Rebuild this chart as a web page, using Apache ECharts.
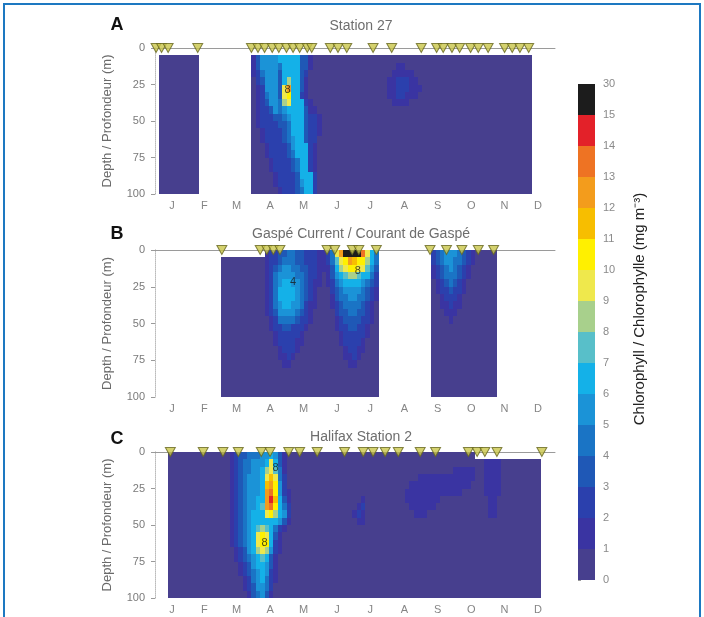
<!DOCTYPE html>
<html>
<head>
<meta charset="utf-8">
<script src="https://cdn.jsdelivr.net/npm/echarts@6/dist/echarts.min.js"></script>
<style>html,body{margin:0;padding:0;background:#fff}#c{width:704px;height:617px}</style>
</head>
<body>
<div id="c"></div>
<script>
// ---------- DATA ----------
const monthLabels = ['J','F','M','A','M','J','J','A','S','O','N','D'];
const monthMidDays = [15.5,45,74.5,105,135.5,166,196.5,227.5,258,288.5,319,349.5];
const depthTicks = [0,25,50,75,100];

// colour classes (mg m-3): lower bounds and mid values, tick labels of the colour bar
const classLower = [0,1,2,3,4,5,6,7,8,9,10,11,12,13,14,15];
const classUpper = [1,2,3,4,5,6,7,8,9,10,11,12,13,14,15,30];
const classMid   = [0.5,1.5,2.5,3.5,4.5,5.5,6.5,7.5,8.5,9.5,10.5,11.5,12.5,13.5,14.5,22.5];
const colorbarLabels = ['0','1','2','3','4','5','6','7','8','9','10','11','12','13','14','15','30'];
const classColors = ['#473f8e','#3a34a2','#2b40ad','#1f58b6','#1a74c5','#1b93d7','#14b1e8','#58bfc9',
  '#a8d08c','#efe84c','#fff000','#f7be00','#f39c1c','#ee7323','#e32129','#1c1c1c'];

// grid of cells: 4-day columns x 5-m depth rows; row strings are run-length coded
// token = class char ('.' = no data, 0-9,a-f = colour class) followed by a count of columns
const cellDays = 4, cellDepth = 5;

const station27Rows = [
  ".92",
  ".1 09 .12 11 31 54 65 32 11 050 .6",
  ".1 09 .12 11 31 54 41 64 32 11 019 12 029 .6",
  ".1 09 .12 11 21 41 53 31 64 31 21 019 15 027 .6",
  ".1 09 .12 01 21 31 53 31 61 81 62 31 11 018 12 23 12 026 .6",
  ".1 09 .12 01 11 21 53 31 91 c1 62 31 11 018 12 23 13 025 .6",
  ".1 09 .12 01 11 21 41 52 31 91 a1 62 21 11 018 12 22 13 026 .6",
  ".1 09 .12 01 11 21 31 52 41 81 91 63 21 11 018 14 028 .6",
  ".1 09 .12 01 11 22 31 51 41 51 64 31 12 049 .6",
  ".1 09 .12 01 11 23 32 41 51 63 31 22 11 048 .6",
  ".1 09 .12 01 11 24 32 41 63 31 22 11 048 .6",
  ".1 09 .12 02 11 24 31 41 63 31 22 11 048 .6",
  ".1 09 .12 02 11 24 31 41 51 62 31 22 049 .6",
  ".1 09 .12 03 11 24 31 51 63 21 11 049 .6",
  ".1 09 .12 03 11 24 31 41 63 21 11 049 .6",
  ".1 09 .12 04 11 24 31 41 62 21 11 049 .6",
  ".1 09 .12 04 11 24 31 41 62 21 11 049 .6",
  ".1 09 .12 05 11 24 31 63 21 049 .6",
  ".1 09 .12 05 11 24 31 51 62 21 049 .6",
  ".1 09 .12 06 11 23 31 41 62 21 049 .6"
];

const gaspeRows = [
  ".25 11 22 32 42 32 23 12 21 41 91 c1 f4 d1 91 61 41 .12 21 31 41 53 41 31 21 11 05 .14",
  ".15 010 11 22 31 43 32 23 12 21 41 71 91 a1 c1 b1 a2 81 61 41 .12 21 31 41 52 42 31 21 11 05 .14",
  ".15 010 11 21 31 41 52 42 32 22 12 11 31 61 81 91 a2 92 71 51 31 .12 11 21 31 41 51 41 31 21 11 06 .14",
  ".15 010 11 21 41 54 42 31 22 11 01 11 31 51 61 71 82 71 62 41 21 .12 11 21 31 43 31 21 11 06 .14",
  ".15 010 11 21 41 51 62 52 41 31 21 12 01 11 21 41 51 64 51 41 31 21 .12 01 11 21 31 41 31 21 11 07 .14",
  ".15 010 11 21 41 64 51 41 31 21 11 02 01 21 31 41 54 41 31 21 11 .12 01 11 22 31 22 11 07 .14",
  ".15 010 11 21 41 64 51 41 31 21 11 02 01 11 31 42 52 42 31 21 11 .12 02 11 23 11 08 .14",
  ".15 010 11 21 41 51 62 52 41 21 12 02 01 11 21 31 44 31 21 11 01 .12 02 12 21 12 08 .14",
  ".15 010 11 21 31 54 41 31 21 11 03 02 21 32 42 32 21 11 01 .12 03 13 09 .14",
  ".15 010 01 11 21 44 31 22 11 03 02 11 21 34 22 11 01 .12 04 11 010 .14",
  ".15 010 01 11 22 32 23 11 04 02 11 22 32 22 11 02 .12 015 .14",
  ".15 010 02 11 25 11 05 03 11 25 11 02 .12 015 .14",
  ".15 010 02 11 24 12 05 03 11 24 11 03 .12 015 .14",
  ".15 010 03 11 23 11 06 04 11 22 12 03 .12 015 .14",
  ".15 010 03 12 21 11 07 04 12 21 11 04 .12 015 .14",
  ".15 010 04 12 08 05 12 05 .12 015 .14",
  ".15 036 .12 015 .14",
  ".15 036 .12 015 .14",
  ".15 036 .12 015 .14",
  ".15 036 .12 015 .14"
];

const halifaxRows = [
  ".3 014 11 21 32 43 52 61 51 31 11 01 042 .19",
  ".3 014 11 21 31 42 53 61 91 61 31 11 01 044 14 09 .4",
  ".3 014 11 21 31 42 52 61 81 91 71 41 11 01 037 15 02 14 09 .4",
  ".3 014 11 21 31 41 53 61 91 b1 91 41 21 01 029 113 02 14 09 .4",
  ".3 014 11 21 31 41 53 61 b1 c1 a1 51 21 01 027 114 03 14 09 .4",
  ".3 014 11 21 31 41 53 61 c1 d1 a1 51 21 11 026 113 05 14 09 .4",
  ".3 014 11 21 31 41 52 62 c1 e1 b1 61 31 11 016 11 09 18 011 12 010 .4",
  ".3 014 11 21 31 41 52 61 71 c1 d1 a1 61 41 21 015 11 21 010 16 012 12 010 .4",
  ".3 014 11 21 31 41 51 63 91 a1 81 61 51 21 014 11 21 11 011 13 014 12 010 .4",
  ".3 014 11 21 31 41 51 66 51 31 11 015 12 040 .4",
  ".3 014 11 21 31 41 51 61 71 81 71 61 41 21 11 01 057 .4",
  ".3 014 11 21 31 41 51 61 91 a1 91 61 31 11 02 057 .4",
  ".3 014 11 21 31 41 51 61 91 a2 61 21 11 02 057 .4",
  ".3 014 01 11 21 31 51 61 81 91 81 51 21 11 02 057 .4",
  ".3 014 01 11 21 31 41 51 61 71 61 31 11 03 057 .4",
  ".3 014 02 11 21 31 51 62 51 31 11 03 057 .4",
  ".3 014 02 11 21 31 41 51 61 51 21 11 03 057 .4",
  ".3 014 03 11 21 41 51 61 41 21 11 03 057 .4",
  ".3 014 03 11 21 31 52 41 21 04 057 .4",
  ".3 014 04 11 31 41 51 31 11 04 057 .4"
];

// sampling dates (day of year), shown as triangles at the surface
const samplesStation27 = [1,6,12,39,88,94,100,107,113,120,126,132,139,143,160,167,175,199,216,243,257,263,271,278,288,295,304,319,326,333,341];
const samplesGaspe = [61,96,102,108,114,157,164,180,186,202,251,266,280,295,309];
const samplesHalifax = [14,44,62,76,97,105,122,132,148,173,190,199,210,222,242,256,286,294,301,312,353];

// contour labels [day, depth, text]
const labelsStation27 = [[121,29,'8']];
const labelsGaspe = [[126,22,'4'],[185,14,'8']];
const labelsHalifax = [[110,11,'8'],[100,62,'8']];

const panelTitles = ['Station 27','Gaspé Current / Courant de Gaspé','Halifax Station 2'];
const panelLetters = ['A','B','C'];

// ---------- BUILD ----------
function decodeRows(rows) {
  const cells = [];
  rows.forEach((row, r) => {
    let c = 0;
    row.trim().split(/\s+/).forEach(tok => {
      const ch = tok[0], n = parseInt(tok.slice(1), 10);
      for (let i = 0; i < n; i++, c++) {
        if (ch !== '.') cells.push([c * cellDays, r * cellDepth, classMid[parseInt(ch, 16)]]);
      }
    });
  });
  return cells;
}

const panels = [
  {rows: station27Rows, samples: samplesStation27, labels: labelsStation27},
  {rows: gaspeRows, samples: samplesGaspe, labels: labelsGaspe},
  {rows: halifaxRows, samples: samplesHalifax, labels: labelsHalifax}
];
const gridBoxes = [
  {left: 155, top: 48, width: 400, height: 146},
  {left: 155, top: 250, width: 400, height: 147},
  {left: 155, top: 452, width: 400, height: 146}
];
const FONT = 'Liberation Sans';

function renderCell(params, api) {
  const d = api.value(0), z = api.value(1);
  const p0 = api.coord([d, z]);
  const p1 = api.coord([d + cellDays, z + cellDepth]);
  const cs = params.coordSys;
  const x0 = Math.round(p0[0]), y0 = Math.round(p0[1]);
  const x1 = Math.round(p1[0]), y1 = Math.round(p1[1]);
  const rect = echarts.graphic.clipRectByRect(
    {x: x0, y: y0, width: x1 - x0, height: y1 - y0},
    {x: Math.round(cs.x), y: Math.round(cs.y), width: Math.round(cs.width), height: Math.round(cs.height)});
  return rect && {type: 'rect', shape: rect, style: {fill: api.visual('color')}};
}
function renderBand(params, api) {
  const p0 = api.coord([0, api.value(1) + 1]);
  const p1 = api.coord([1, api.value(1)]);
  const x0 = Math.round(p0[0]), y0 = Math.round(p0[1]);
  const x1 = Math.round(p1[0]), y1 = Math.round(p1[1]);
  return {type: 'rect', shape: {x: x0, y: y0, width: x1 - x0, height: y1 - y0},
    style: {fill: api.visual('color')}};
}

const grids = [], xAxes = [], yAxes = [], series = [], cellSeriesIdx = [];
panels.forEach((p, i) => {
  grids.push(gridBoxes[i]);
  xAxes.push({
    gridIndex: i, type: 'value', min: 0, max: 365, position: 'bottom',
    axisLine: {show: false}, axisTick: {show: false}, splitLine: {show: false},
    axisLabel: {customValues: monthMidDays, margin: 6, color: '#858585', fontSize: 11, fontFamily: FONT,
      formatter: v => monthLabels[monthMidDays.indexOf(v)] || ''}
  });
  xAxes.push({
    gridIndex: i, type: 'value', min: 0, max: 365, position: 'top',
    axisLine: {show: true, onZero: false, lineStyle: {color: '#9a9a9a', width: 1}},
    axisTick: {show: false}, axisLabel: {show: false}, splitLine: {show: false}
  });
  yAxes.push({
    gridIndex: i, type: 'value', min: 0, max: 100, interval: 25, inverse: true,
    name: 'Depth / Profondeur (m)', nameLocation: 'middle', nameGap: 41,
    nameTextStyle: {color: '#6a6a6a', fontSize: 13, fontFamily: FONT},
    axisLine: {show: true, lineStyle: {color: '#9a9a9a'}},
    axisTick: {show: true, length: 4, lineStyle: {color: '#9a9a9a'}},
    axisLabel: {color: '#7a7a7a', fontSize: 11, margin: 10, fontFamily: FONT},
    splitLine: {show: false}
  });
  yAxes.push({
    gridIndex: i, type: 'value', min: 0, max: 100, interval: 25, inverse: true, position: 'right',
    axisLine: {show: true, lineStyle: {color: '#cfcfcf', type: 'dotted'}},
    axisTick: {show: false}, axisLabel: {show: false}, splitLine: {show: false}
  });
  cellSeriesIdx.push(series.length);
  series.push({
    type: 'custom', xAxisIndex: 2 * i, yAxisIndex: 2 * i, renderItem: renderCell,
    data: decodeRows(p.rows), encode: {x: 0, y: 1}, silent: true, z: 2
  });
  series.push({
    type: 'scatter', xAxisIndex: 2 * i, yAxisIndex: 2 * i, clip: false, z: 6,
    symbol: 'triangle', symbolRotate: 180, symbolSize: [10, 9],
    itemStyle: {color: '#c9c54a', borderColor: '#66661f', borderWidth: 1},
    data: p.samples.map(d => [d, 0])
  });
  series.push({
    type: 'scatter', xAxisIndex: 2 * i, yAxisIndex: 2 * i, symbolSize: 0, z: 7,
    label: {show: true, position: 'inside', formatter: q => q.data[2], color: '#1a1a1a', fontSize: 11, fontFamily: FONT},
    data: p.labels
  });
});

// colour bar
grids.push({left: 578, top: 84, width: 17, height: 496});
xAxes.push({gridIndex: 3, type: 'value', min: 0, max: 1, show: false});
yAxes.push({
  gridIndex: 3, type: 'value', min: 0, max: 16, interval: 1, position: 'right',
  axisLine: {show: false}, axisTick: {show: true, length: 3, lineStyle: {color: '#9a9a9a'}},
  axisLabel: {color: '#8a8a8a', fontSize: 11, margin: 8, fontFamily: FONT, formatter: v => colorbarLabels[v]},
  splitLine: {show: false}
});
cellSeriesIdx.push(series.length);
series.push({
  type: 'custom', xAxisIndex: 6, yAxisIndex: 6, renderItem: renderBand, silent: true,
  data: classMid.map((m, i) => [0, i, m]), encode: {x: 0, y: 1}
});

const graphics = [
  {type: 'rect', shape: {x: 4, y: 4, width: 696, height: 720}, style: {fill: 'none', stroke: '#1d78c1', lineWidth: 2}},
  {type: 'text', x: 640, y: 309, rotation: Math.PI / 2,
    style: {text: 'Chlorophyll / Chlorophylle (mg m⁻³)', fill: '#222', font: '15px "Liberation Sans"', textAlign: 'center', textVerticalAlign: 'middle'}}
];
const letterY = [25, 234, 439], titleY = [26, 234, 437];
panelLetters.forEach((t, i) => {
  graphics.push({type: 'text', x: 117, y: letterY[i],
    style: {text: t, fill: '#111', font: 'bold 18px "Liberation Sans"', textAlign: 'center', textVerticalAlign: 'middle'}});
  graphics.push({type: 'text', x: 361, y: titleY[i],
    style: {text: panelTitles[i], fill: '#6e6e6e', font: '14px "Liberation Sans"', textAlign: 'center', textVerticalAlign: 'middle'}});
});

const chart = echarts.init(document.getElementById('c'), null, {renderer: 'canvas'});
chart.setOption({
  animation: false,
  backgroundColor: '#fff',
  textStyle: {fontFamily: FONT},
  grid: grids, xAxis: xAxes, yAxis: yAxes,
  visualMap: {
    type: 'piecewise', show: false, dimension: 2, seriesIndex: cellSeriesIdx,
    pieces: classLower.map((lo, i) => i < 15
      ? {gte: lo, lt: classUpper[i], color: classColors[i]}
      : {gte: lo, lte: classUpper[i], color: classColors[i]})
  },
  graphic: graphics,
  series: series
});
</script>
</body>
</html>
